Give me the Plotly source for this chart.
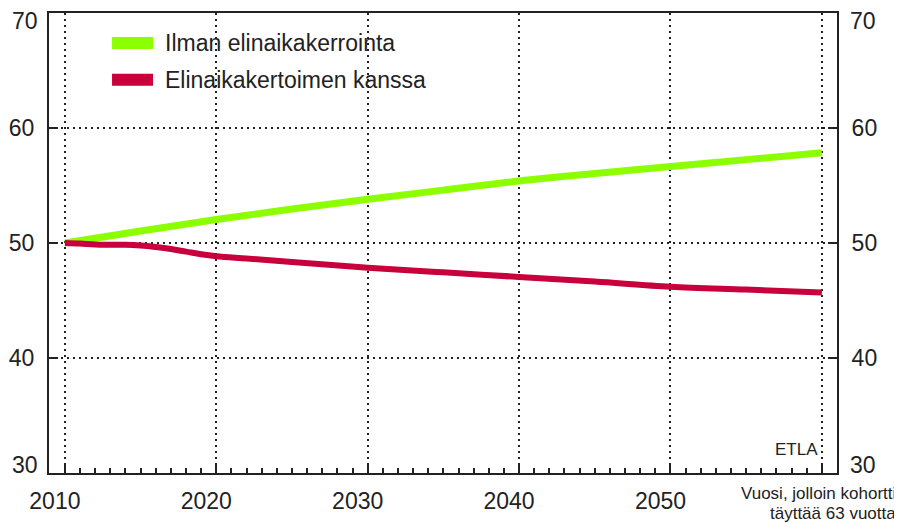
import plotly.graph_objects as go

years_green = [2010, 2015, 2020, 2025, 2030, 2035, 2040, 2045, 2050, 2055, 2060]
ilman = [50.0, 51.05, 52.05, 52.95, 53.8, 54.6, 55.4, 56.05, 56.65, 57.25, 57.85]

years_red = [2010, 2011, 2012, 2013, 2014, 2015, 2016, 2017, 2018, 2019, 2020,
             2022, 2025, 2030, 2035, 2040, 2045, 2050, 2055, 2060]
kanssa = [50.0, 49.95, 49.87, 49.85, 49.85, 49.78, 49.65, 49.48, 49.25, 49.02, 48.85,
          48.65, 48.35, 47.85, 47.45, 47.05, 46.65, 46.2, 45.95, 45.7]

names = ["Ilman elinaikakerrointa", "Elinaikakertoimen kanssa"]
colors = ["#8cff00", "#c8003c"]

x_ticks = [2010, 2020, 2030, 2040, 2050, 2060]
x_ticktext = ["2010", "2020", "2030", "2040", "2050", ""]
y_inner = [40, 50, 60]  # 30 and 70 are nudged inward in the original
y_ends = [70, 30]

FONT = "Liberation Sans"
INK = "#222"

fig = go.Figure()
fig.add_trace(go.Scatter(x=years_green, y=ilman, mode="lines", name=names[0],
                         line=dict(color=colors[0], width=7, shape="spline"),
                         showlegend=False))
# red sits on the right-hand axis so it is drawn on top and that axis gets rendered
fig.add_trace(go.Scatter(x=years_red, y=kanssa, mode="lines", name=names[1],
                         line=dict(color=colors[1], width=6, shape="spline"),
                         showlegend=False, yaxis="y2"))

# hand-made legend like the original
for i, (name, col) in enumerate(zip(names, colors)):
    yy = 0.935 - i * 0.08
    fig.add_shape(type="line", xref="paper", yref="paper",
                  x0=0.080, x1=0.132, y0=yy, y1=yy,
                  line=dict(color=col, width=12))
    fig.add_annotation(x=0.145, y=yy, xref="paper", yref="paper", text=name,
                       showarrow=False, xanchor="left", yanchor="middle",
                       font=dict(size=23, color=INK))

# end labels of the y axes, pulled inside the frame
for v, yy in zip(y_ends, [0.983, 0.017]):
    fig.add_annotation(x=-0.012, y=yy, xref="paper", yref="paper", text=str(v),
                       showarrow=False, xanchor="right", yanchor="middle",
                       font=dict(size=23, color=INK))
    fig.add_annotation(x=1.014, y=yy, xref="paper", yref="paper", text=str(v),
                       showarrow=False, xanchor="left", yanchor="middle",
                       font=dict(size=23, color=INK))

fig.add_annotation(x=0.978, y=0.052, xref="paper", yref="paper", text="ETLA",
                   showarrow=False, xanchor="right", yanchor="middle",
                   font=dict(size=17, color=INK))
fig.add_annotation(x=1.077, y=-0.045, xref="paper", yref="paper",
                   text="Vuosi, jolloin kohortti",
                   showarrow=False, xanchor="right", yanchor="middle",
                   font=dict(size=17, color=INK))
fig.add_annotation(x=1.077, y=-0.088, xref="paper", yref="paper",
                   text="täyttää 63 vuotta",
                   showarrow=False, xanchor="right", yanchor="middle",
                   font=dict(size=17, color=INK))

axis_common = dict(showline=True, linecolor=INK, linewidth=2, zeroline=False,
                   ticks="inside", tickwidth=2, tickcolor=INK, automargin=False,
                   tickfont=dict(size=23, color=INK))

# page body has an 8px margin, so the figure is 8px smaller than the window
fig.update_layout(
    width=894, height=515,
    margin=dict(l=41, r=65, t=5, b=50),
    paper_bgcolor="white", plot_bgcolor="white",
    font=dict(family=FONT, color=INK),
    showlegend=False,
    xaxis=dict(
        axis_common, range=[2008.95, 2061.0], tickvals=x_ticks, ticktext=x_ticktext,
        mirror=True, ticklen=10,
        minor=dict(ticks="inside", dtick=1, ticklen=5, tickwidth=1.5, tickcolor=INK),
        showgrid=True, gridcolor=INK, griddash="2px,4px", gridwidth=1.5,
        ticklabelstandoff=6, ticklabelshift=-10,
    ),
    yaxis=dict(
        axis_common, range=[30, 70], tickvals=y_inner, ticklen=9,
        showgrid=True, gridcolor=INK, griddash="2px,4px", gridwidth=1.5,
        ticklabelstandoff=8,
    ),
    yaxis2=dict(
        axis_common, range=[30, 70], tickvals=y_inner, ticklen=9,
        overlaying="y", side="right", showgrid=False,
        ticklabelstandoff=8,
    ),
)

fig.write_html("out.html")
